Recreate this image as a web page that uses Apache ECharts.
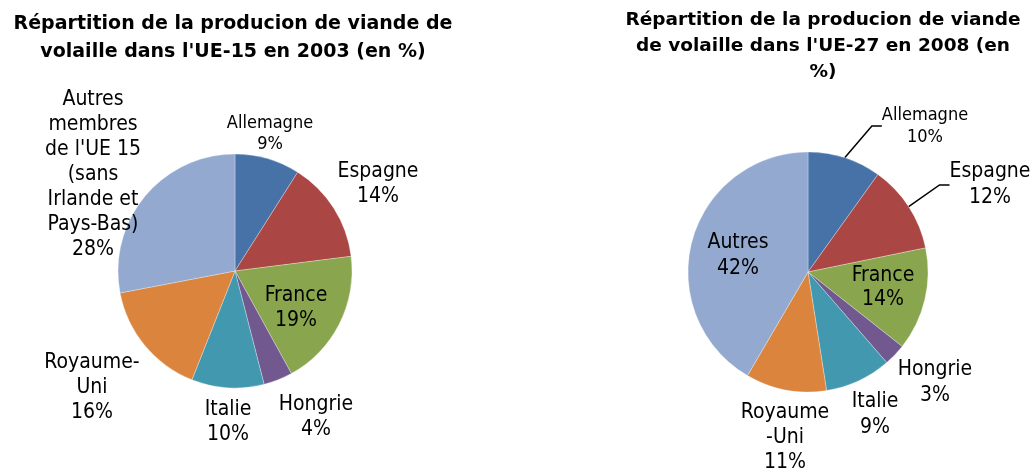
<!DOCTYPE html>
<html>
<head>
<meta charset="utf-8">
<script src="https://cdn.jsdelivr.net/npm/echarts@6/dist/echarts.min.js"></script>
<style>
html, body { margin: 0; padding: 0; background: #fff; }
#main { width: 1030px; height: 475px; }
</style>
</head>
<body>
<div id="main"></div>
<script>
var title2003 = "Répartition de la producion de viande de\nvolaille dans l'UE-15 en 2003 (en %)";
var title2008 = "Répartition de la producion de viande\nde volaille dans l'UE-27 en 2008 (en\n%)";

var names2003 = ['Allemagne', 'Espagne', 'France', 'Hongrie', 'Italie', 'Royaume-\nUni', "Autres\nmembres\nde l'UE 15\n(sans\nIrlande et\nPays-Bas)"];
var values2003 = [9, 14, 19, 4, 10, 16, 28];

var names2008 = ['Allemagne', 'Espagne', 'France', 'Hongrie', 'Italie', 'Royaume\n-Uni', 'Autres'];
var values2008 = [10, 12, 14, 3, 9, 11, 42];

var colors = ['#4672A8', '#AA4643', '#89A54E', '#71588F', '#4198AF', '#DB843D', '#93A9CF'];

// label centres (px) and sizes, set by hand like the original
var labelPos = [
    [[270, 134], [378, 184], [296, 308], [316, 417], [228, 422], [92, 388], [93, 175]],
    [[925, 126], [990, 185], [883, 288], [935, 383], [875, 415], [785, 438], [738, 256]]
];
var labelSize = [
    [18, 21, 21, 21, 21, 21, 21],
    [18, 21, 21, 21, 21, 21, 21]
];
var labelLH = [
    [21, 25, 25, 25, 25, 25, 25],
    [22, 26, 24, 26, 26, 25, 26]
];
var guideLine = [
    [false, false, false, false, false, false, false],
    [true, true, false, false, false, false, false]
];

function buildData(s, names, values) {
    return values.map(function (v, i) {
        return {
            name: names[i],
            value: v,
            itemStyle: { color: colors[i] },
            label: { fontSize: labelSize[s][i], lineHeight: labelLH[s][i] },
            labelLine: { show: guideLine[s][i] }
        };
    });
}

function pie(s, names, values, center, radius) {
    return {
        type: 'pie',
        center: center,
        radius: radius,
        startAngle: 90,
        clockwise: true,
        animation: false,
        silent: true,
        data: buildData(s, names, values),
        itemStyle: { borderColor: 'rgba(255,255,255,0.6)', borderWidth: 0.5 },
        label: {
            show: true,
            position: 'outside',
            color: '#000',
            fontFamily: 'DejaVu Sans Condensed',
            align: 'center',
            formatter: function (p) {
                return p.name + '\n' + p.value + '%';
            }
        },
        labelLine: {
            show: false,
            length: 10,
            length2: 10,
            lineStyle: { color: '#000', width: 1.5 }
        },
        labelLayout: function (p) {
            var pos = labelPos[s][p.dataIndex];
            return { x: pos[0], y: pos[1], align: 'center', verticalAlign: 'middle' };
        }
    };
}

var myChart = echarts.init(document.getElementById('main'));
var option = {
    backgroundColor: '#fff',
    title: [{
        text: title2003,
        left: 228,
        top: 5,
        textAlign: 'center',
        textStyle: { fontFamily: 'DejaVu Sans', fontWeight: 'bold', fontSize: 19, lineHeight: 28, color: '#000' }
    }, {
        text: title2008,
        left: 818,
        top: 2,
        textAlign: 'center',
        textStyle: { fontFamily: 'DejaVu Sans', fontWeight: 'bold', fontSize: 18.5, lineHeight: 26, color: '#000' }
    }],
    series: [
        pie(0, names2003, values2003, [235, 271], 117),
        pie(1, names2008, values2008, [808, 272], 120)
    ]
};
myChart.setOption(option);
</script>
</body>
</html>
